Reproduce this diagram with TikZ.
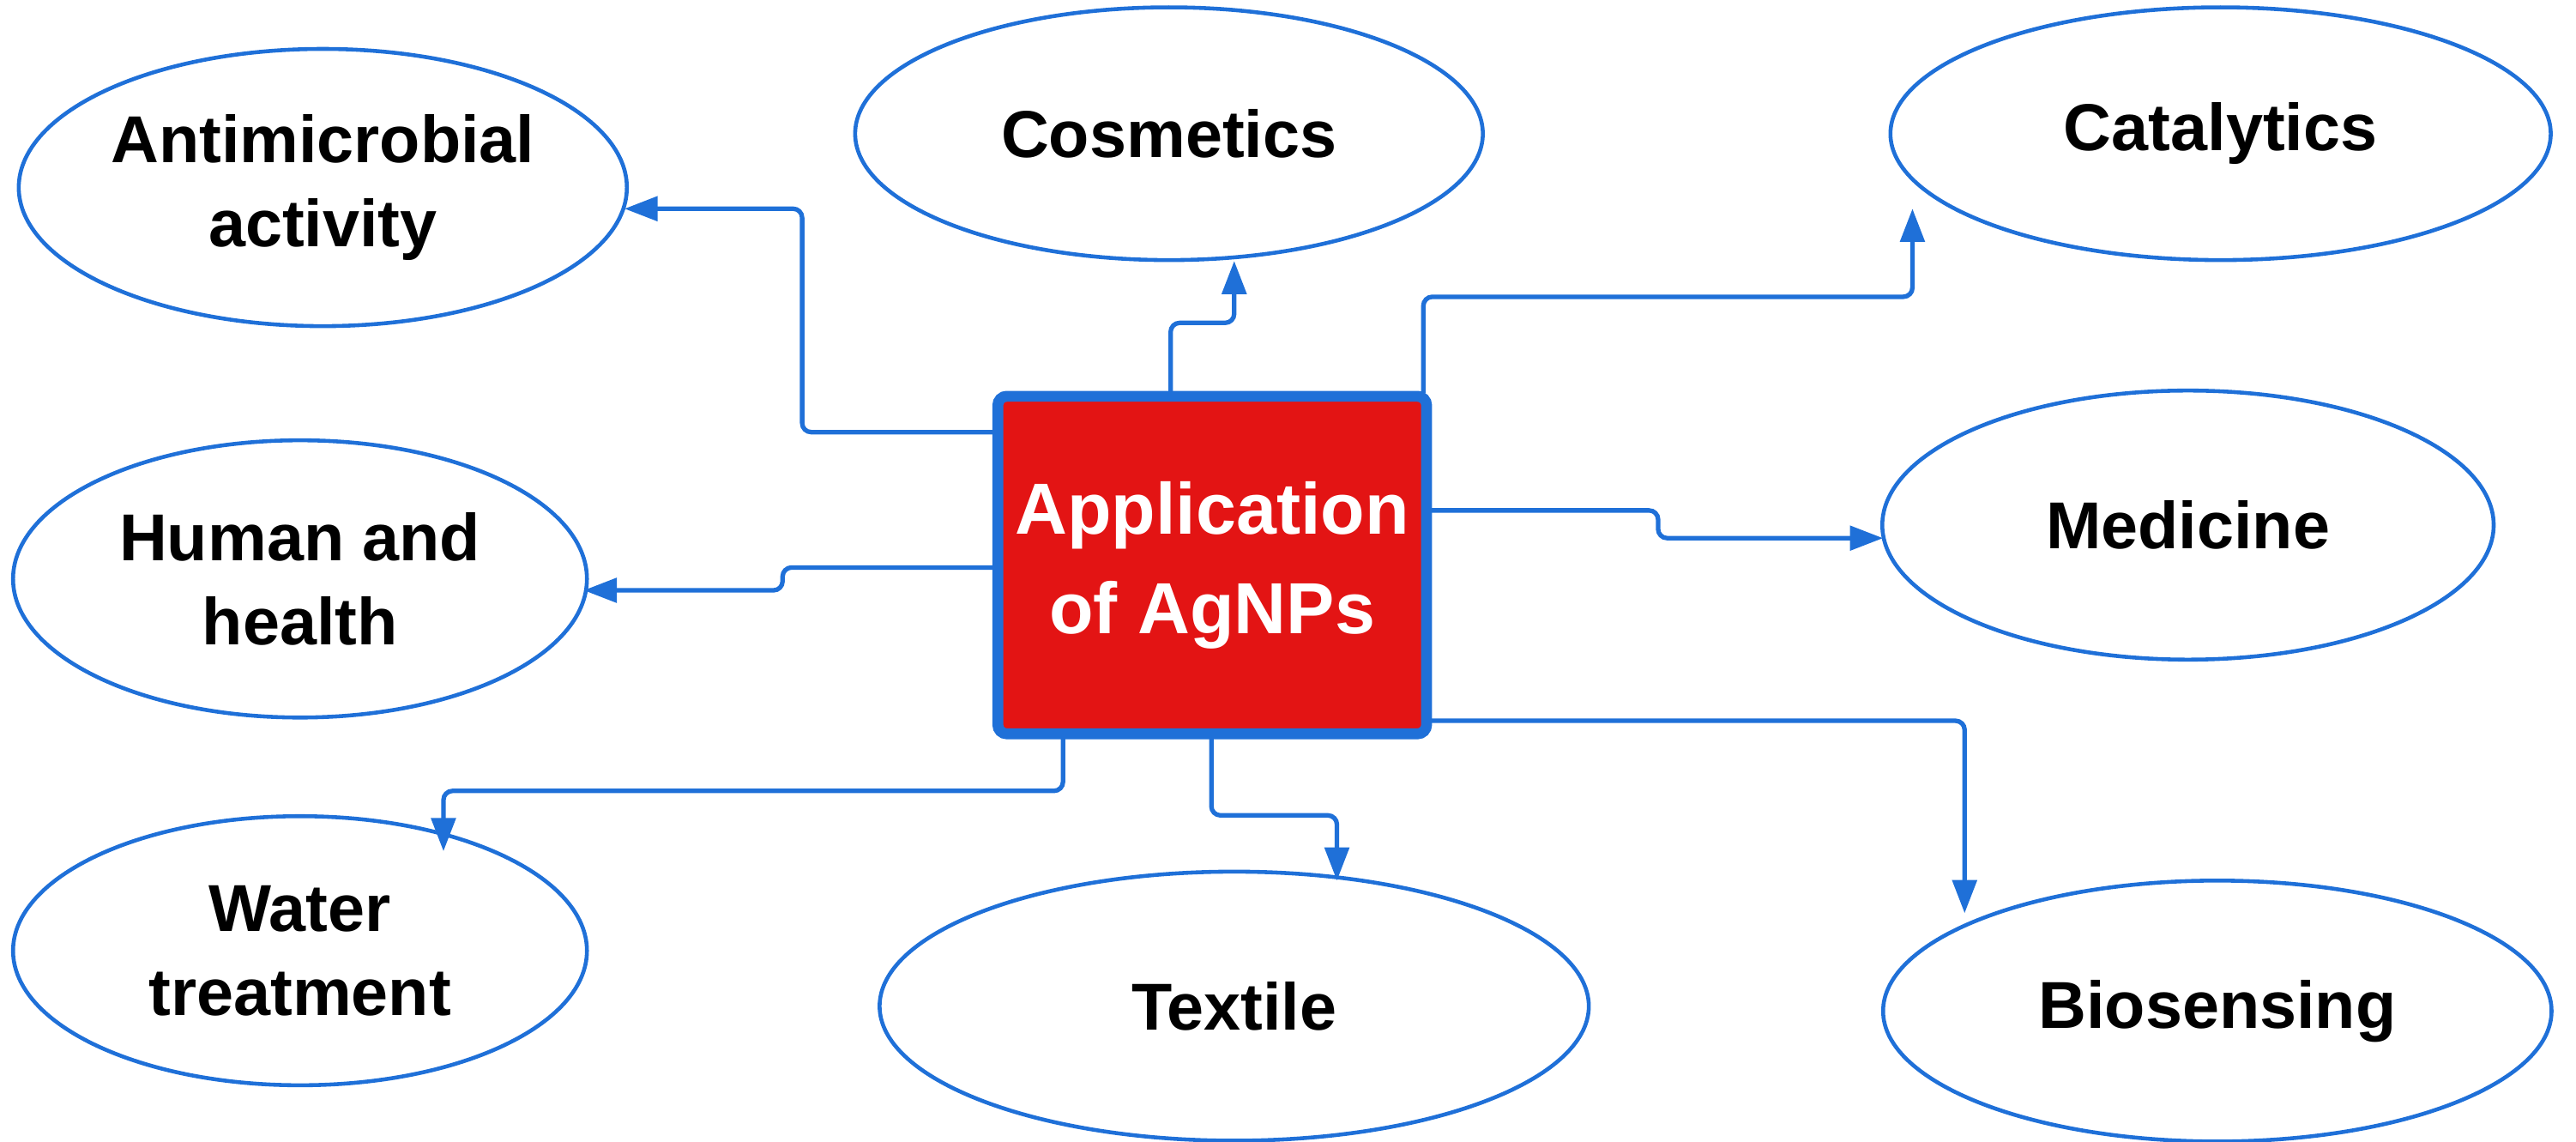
\documentclass[tikz,border=0pt]{standalone}
\usepackage{fontspec}
\setmainfont{Liberation Sans}
\usetikzlibrary{shapes.geometric,arrows.meta}
\definecolor{bl}{HTML}{1F70D8}
\definecolor{rd}{HTML}{E31414}
\begin{document}
\begin{tikzpicture}[x=0.019cm,y=-0.019cm,
  ell/.style={ellipse,draw=bl,line width=1.3pt,inner sep=0pt,align=center,font=\fontsize{22}{28}\selectfont\bfseries},
  conn/.style={draw=bl,line width=1.5pt,-{Triangle[length=11pt,width=8pt]},rounded corners=3pt}]
\useasboundingbox (0,0) rectangle (1580,700);
\node[draw=bl,fill=rd,line width=3.6pt,rounded corners=3pt,minimum width=263*0.019cm,minimum height=207*0.019cm,
  text=white,align=center,font=\fontsize{24}{33}\selectfont\bfseries] (box) at (743.5,346.5) {Application\\of AgNPs};
\node[ell,minimum width=373*0.019cm,minimum height=170*0.019cm] (am) at (198,115) {Antimicrobial\\activity};
\node[ell,minimum width=385*0.019cm,minimum height=155*0.019cm] (co) at (717,82) {Cosmetics};
\node[ell,minimum width=405*0.019cm,minimum height=155*0.019cm] (ca) at (1362,82) {Catalytics};
\node[ell,minimum width=352*0.019cm,minimum height=170*0.019cm] (hh) at (184,355) {Human and\\health};
\node[ell,minimum width=375*0.019cm,minimum height=165*0.019cm] (me) at (1342,322) {Medicine};
\node[ell,minimum width=352*0.019cm,minimum height=165*0.019cm] (wt) at (184,583) {Water\\treatment};
\node[ell,minimum width=435*0.019cm,minimum height=165*0.019cm] (te) at (757,617) {Textile};
\node[ell,minimum width=410*0.019cm,minimum height=160*0.019cm] (bi) at (1360,620) {Biosensing};
\coordinate (eam) at (383,128);
\coordinate (eco) at (757,160);
\coordinate (eca) at (1173,128);
\coordinate (ehh) at (358,362);
\coordinate (eme) at (1155,330);
\coordinate (ewt) at (272,522);
\coordinate (ete) at (820,540);
\coordinate (ebi) at (1205,560);
\draw[conn] (612,265) -- (492,265) -- (492,128) -- (eam);
\draw[conn] (718,241) -- (718,198) -- (757,198) -- (eco);
\draw[conn] (873,241) -- (873,182) -- (1173,182) -- (eca);
\draw[conn] (612,348) -- (480,348) -- (480,362) -- (ehh);
\draw[conn] (877,313) -- (1017,313) -- (1017,330) -- (eme);
\draw[conn] (652,452) -- (652,485) -- (272,485) -- (ewt);
\draw[conn] (743,452) -- (743,500) -- (820,500) -- (ete);
\draw[conn] (877,442) -- (1205,442) -- (ebi);
\end{tikzpicture}
\end{document}
